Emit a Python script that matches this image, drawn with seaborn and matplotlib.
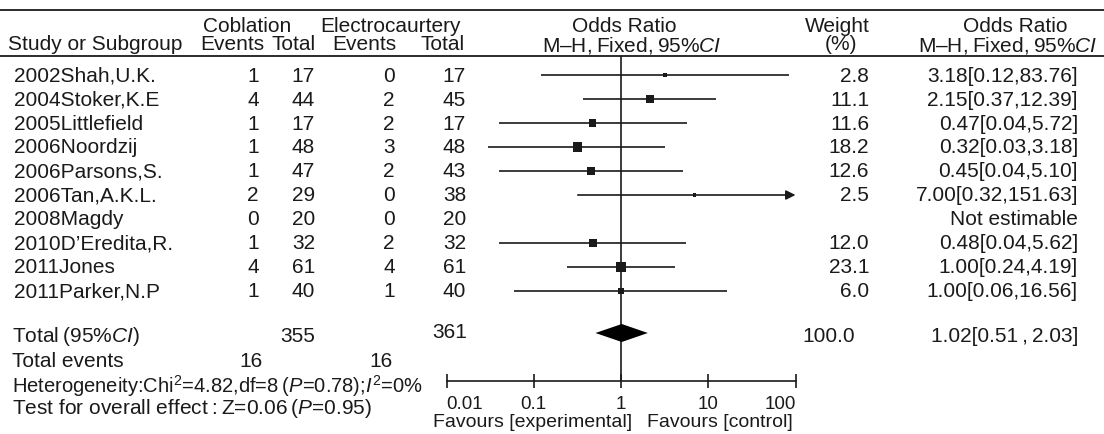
import numpy as np
import pandas as pd
import matplotlib
matplotlib.use("Agg")
import matplotlib.pyplot as plt
import seaborn as sns

# data
studies = ["2002Shah,U.K.", "2004Stoker,K.E", "2005Littlefield", "2006Noordzij",
           "2006Parsons,S.", "2006Tan,A.K.L.", "2008Magdy", "2010D\u2019Eredita,R.",
           "2011Jones", "2011Parker,N.P"]
cob_events = [1, 4, 1, 1, 1, 2, 0, 1, 4, 1]
cob_total = [17, 44, 17, 48, 47, 29, 20, 32, 61, 40]
ele_events = [0, 2, 2, 3, 2, 0, 0, 2, 4, 1]
ele_total = [17, 45, 17, 48, 43, 38, 20, 32, 61, 40]
weights = [2.8, 11.1, 11.6, 18.2, 12.6, 2.5, np.nan, 12.0, 23.1, 6.0]
or_est = [3.18, 2.15, 0.47, 0.32, 0.45, 7.00, np.nan, 0.48, 1.00, 1.00]
or_lo = [0.12, 0.37, 0.04, 0.03, 0.04, 0.32, np.nan, 0.04, 0.24, 0.06]
or_hi = [83.76, 12.39, 5.72, 3.18, 5.10, 151.63, np.nan, 5.62, 4.19, 16.56]

total_cob, total_ele = 355, 361
events_cob, events_ele = 16, 16
total_or, total_lo, total_hi = 1.02, 0.51, 2.03
total_weight = 100.0

xticks = [0.01, 0.1, 1, 10, 100]
xticklabels = ["0.01", "0.1", "1", "10", "100"]

sns.set_theme(style="white")
plt.rcParams["font.family"] = ["Liberation Sans", "DejaVu Sans"]
plt.rcParams["mathtext.fontset"] = "custom"
plt.rcParams["mathtext.rm"] = "Liberation Sans"
plt.rcParams["mathtext.it"] = "Liberation Sans:italic"
plt.rcParams["mathtext.bf"] = "Liberation Sans:bold"

ink = "#1a1a1a"
fs = 15
W, H = 1104, 435

# vertical layout in pixels from the top
top_rule, hdr1, hdr2, hdr_rule = 11, 27, 45, 57
first_row, step = 76, 24
total_y, events_y, het_y, test_y = 337, 362, 386, 409
axis_y, favours_y = 382, 423
row_y = first_row + step * np.arange(len(studies))

fig = plt.figure(figsize=(W / 100, H / 100), dpi=100)
fig.patch.set_facecolor("white")

# table part, pixel coordinates
ax_t = fig.add_axes([0, 0, 1, 1])
ax_t.set_xlim(0, W)
ax_t.set_ylim(H, 0)
ax_t.axis("off")

ax_t.axhline(top_rule, color=ink, lw=1.3)
ax_t.axhline(hdr_rule, color=ink, lw=1.3)

def txt(x, y, s, ha="left", size=fs, **kw):
    ax_t.text(x, y, s, ha=ha, va="center", fontsize=size, color=ink, **kw)

# headers
txt(247, hdr1, "Coblation", "center")
txt(391, hdr1, "Electrocaurtery", "center")
txt(624, hdr1, "Odds Ratio", "center")
txt(837, hdr1, "Weight", "center")
txt(1015, hdr1, "Odds Ratio", "center")
txt(8, hdr2, "Study or Subgroup")
txt(232, hdr2, "Events", "center")
txt(294, hdr2, "Total", "center")
txt(364, hdr2, "Events", "center")
txt(443, hdr2, "Total", "center")
txt(632, hdr2, "M\u2013H,\u2009Fixed,\u200995%$\\mathit{CI}$", "center")
txt(841, hdr2, "(%)", "center")
txt(1008, hdr2, "M\u2013H,\u2009Fixed,\u200995%$\\mathit{CI}$", "center")

# study rows
for i, name in enumerate(studies):
    y = row_y[i]
    txt(14, y, name)
    txt(259, y, str(cob_events[i]), "right")
    txt(315, y, str(cob_total[i]), "right")
    txt(395, y, str(ele_events[i]), "right")
    txt(466, y, str(ele_total[i]), "right")
    if np.isnan(weights[i]):
        txt(1078, y, "Not estimable", "right")
    else:
        txt(869, y, f"{weights[i]:.1f}", "right")
        txt(1078, y, f"{or_est[i]:.2f}[{or_lo[i]:.2f},{or_hi[i]:.2f}]", "right")

# summary rows
txt(12, total_y, "Total\u2009(95%$\\mathit{CI}$)")
txt(315, total_y, str(total_cob), "right")
txt(467, total_y - 4, str(total_ele), "right")
txt(855, total_y, f"{total_weight:.1f}", "right")
txt(1078, total_y, f"{total_or:.2f}[{total_lo:.2f}\u2009,\u2009{total_hi:.2f}]", "right")
txt(12, events_y, "Total events")
txt(263, events_y, str(events_cob), "right")
txt(393, events_y, str(events_ele), "right")
txt(12, het_y, "Heterogeneity:$\\mathrm{Chi}^2$=4.82,df=8\u2009($\\mathit{P}$=0.78);$\\mathit{I}^2$=0%",
    size=14.5)
txt(12, test_y, "Test for overall effect\u2009:\u2009Z=0.06\u2009($\\mathit{P}$=0.95)")
txt(632, favours_y, "Favours [experimental]", "right", size=14)
txt(647, favours_y, "Favours [control]", "left", size=14)

# forest part, log odds ratio axis
x0, x1 = 446.5, 795.5
ax_f = fig.add_axes([x0 / W, (H - axis_y) / H, (x1 - x0) / W, (axis_y - hdr_rule) / H])
ax_f.patch.set_visible(False)
ax_f.set_xscale("log")
ax_f.set_xlim(xticks[0], xticks[-1])
ax_f.set_ylim(axis_y, hdr_rule)
ax_f.axvline(1, color=ink, lw=1.2)

df = pd.DataFrame({"study": studies, "y": row_y, "est": or_est, "lo": or_lo,
                   "hi": or_hi, "weight": weights}).dropna()
clip_hi = df["hi"].clip(upper=xticks[-1])
inside = df["hi"] <= xticks[-1]
ax_f.hlines(df.loc[inside, "y"], df.loc[inside, "lo"], clip_hi[inside], color=ink, lw=1.2)
for _, r in df[~inside].iterrows():
    ax_f.annotate("", xy=(xticks[-1], r["y"]), xytext=(r["lo"], r["y"]),
                  arrowprops=dict(arrowstyle="-|>", color=ink, lw=1.2,
                                  mutation_scale=14, shrinkA=0, shrinkB=0),
                  annotation_clip=False)

size_map = {w: 2.47 * w for w in df["weight"].unique()}
sns.scatterplot(data=df, x="est", y="y", size="weight", sizes=size_map, marker="s",
                color=ink, linewidth=0, legend=False, ax=ax_f, zorder=3)

dh = 9
ax_f.fill([total_lo, total_or, total_hi, total_or],
          [total_y - 3, total_y - 3 - dh, total_y - 3, total_y - 3 + dh],
          color="black", lw=0, zorder=3)

ax_f.set_xticks(xticks)
ax_f.set_xticklabels(xticklabels)
ax_f.xaxis.set_minor_locator(matplotlib.ticker.NullLocator())
ax_f.set_yticks([])
ax_f.set_xlabel("")
ax_f.set_ylabel("")
ax_f.tick_params(axis="x", direction="inout", length=10, width=1.2, color=ink,
                 pad=5, labelsize=13.5, labelcolor=ink, bottom=True)
labels = ax_f.get_xticklabels()
labels[0].set_horizontalalignment("left")
labels[-1].set_horizontalalignment("right")
sns.despine(ax=ax_f, left=True)
ax_f.spines["bottom"].set_color(ink)
ax_f.spines["bottom"].set_linewidth(1.2)

fig.savefig("out.png", dpi=100, facecolor="white")
